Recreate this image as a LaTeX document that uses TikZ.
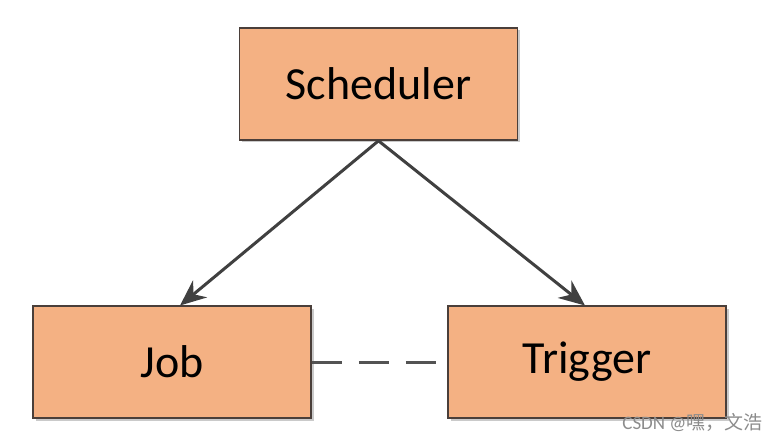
\documentclass[tikz,border=0pt]{standalone}
\usepackage{fontspec}
\setmainfont{Carlito}
\newfontfamily\cjk{Noto Sans CJK SC}
\usetikzlibrary{arrows.meta,shadows}
\definecolor{boxfill}{HTML}{F4B183}
\definecolor{boxline}{HTML}{4A3F3A}
\definecolor{arrowcol}{HTML}{404040}
\begin{document}
\begin{tikzpicture}[x=1pt,y=-1pt,
  box/.style={draw=boxline,line width=1.6pt,fill=boxfill,minimum width=278pt,minimum height=112pt,inner sep=0pt,font=\fontsize{46}{50}\selectfont,
    drop shadow={shadow xshift=2.5pt,shadow yshift=-2.5pt,fill=black!35,opacity=0.6}},
  conn/.style={draw=arrowcol,line width=3pt,-{Stealth[length=26pt,width=22pt]}}]
\useasboundingbox (0,0) rectangle (779,441);
\node[box] (sch) at (378.5,84) {Scheduler};
\node[box] (job) at (172,362) {Job};
\node[box] (trg) at (587,362) {Trigger};
\draw[conn] (sch.south) -- (180,305.5);
\draw[conn] (sch.south) -- (585,305.5);
\draw[draw=arrowcol!90,line width=3pt,dash pattern=on 30pt off 17pt] (job.east) -- (trg.west);
\node[anchor=east,text=black!45,font=\fontsize{19}{21}\selectfont] (wm) at (766,423) {CSDN @{\cjk 嘿，文浩}};
\end{tikzpicture}
\end{document}
